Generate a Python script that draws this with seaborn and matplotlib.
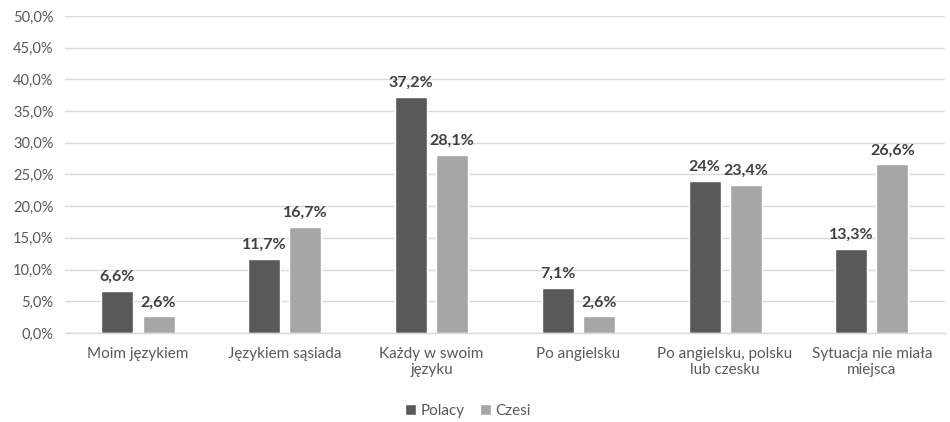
import matplotlib
matplotlib.use("Agg")
import matplotlib.pyplot as plt
import seaborn as sns
import pandas as pd
from matplotlib.ticker import FuncFormatter, MultipleLocator

categories = [
    "Moim językiem",
    "Językiem sąsiada",
    "Każdy w swoim\njęzyku",
    "Po angielsku",
    "Po angielsku, polsku\nlub czesku",
    "Sytuacja nie miała\nmiejsca",
]
polacy = [6.6, 11.7, 37.2, 7.1, 24.0, 13.3]
czesi = [2.6, 16.7, 28.1, 2.6, 23.4, 26.6]
polacy_labels = ["6,6%", "11,7%", "37,2%", "7,1%", "24%", "13,3%"]
czesi_labels = ["2,6%", "16,7%", "28,1%", "2,6%", "23,4%", "26,6%"]
series = ["Polacy", "Czesi"]

df = pd.DataFrame({
    "kategoria": categories * 2,
    "grupa": [series[0]] * len(categories) + [series[1]] * len(categories),
    "wartosc": polacy + czesi,
})

sns.set_theme(style="white")
plt.rcParams["font.family"] = ["Lato", "DejaVu Sans"]
text_color = "#595959"

fig = plt.figure(figsize=(9.5, 4.22), dpi=100)
ax = fig.add_axes([0.068, 0.211, 0.927, 0.751])

palette = {"Polacy": "#595959", "Czesi": "#a6a6a6"}
sns.barplot(data=df, x="kategoria", y="wartosc", hue="grupa",
            order=categories, hue_order=series, palette=palette,
            width=0.56, gap=0.22, saturation=1, ax=ax, legend=True)

ax.set_ylim(0, 50)
ax.yaxis.set_major_locator(MultipleLocator(5))
ax.yaxis.set_major_formatter(FuncFormatter(lambda v, p: f"{v:.1f}%".replace(".", ",")))
ax.grid(axis="y", color="#d9d9d9", linewidth=1)
ax.set_axisbelow(True)
for s in ["top", "right", "left"]:
    ax.spines[s].set_visible(False)
ax.spines["bottom"].set_color("#d9d9d9")
ax.spines["bottom"].set_linewidth(1)
ax.set_xlabel("")
ax.set_ylabel("")
ax.tick_params(axis="y", length=0, labelsize=10.5, colors=text_color, pad=8)
ax.tick_params(axis="x", length=0, labelsize=11, colors=text_color, pad=10)

for container, labels in zip(ax.containers, [polacy_labels, czesi_labels]):
    ax.bar_label(container, labels=labels, padding=5, fontsize=11.5,
                 fontweight="bold", color="#404040")

leg = ax.legend(loc="center", bbox_to_anchor=(0.458, -0.245), ncol=2, frameon=False,
                fontsize=11, handlelength=0.7, handleheight=0.7,
                handletextpad=0.3, columnspacing=1.0)
for t in leg.get_texts():
    t.set_color(text_color)

fig.savefig("out.png", dpi=100)
